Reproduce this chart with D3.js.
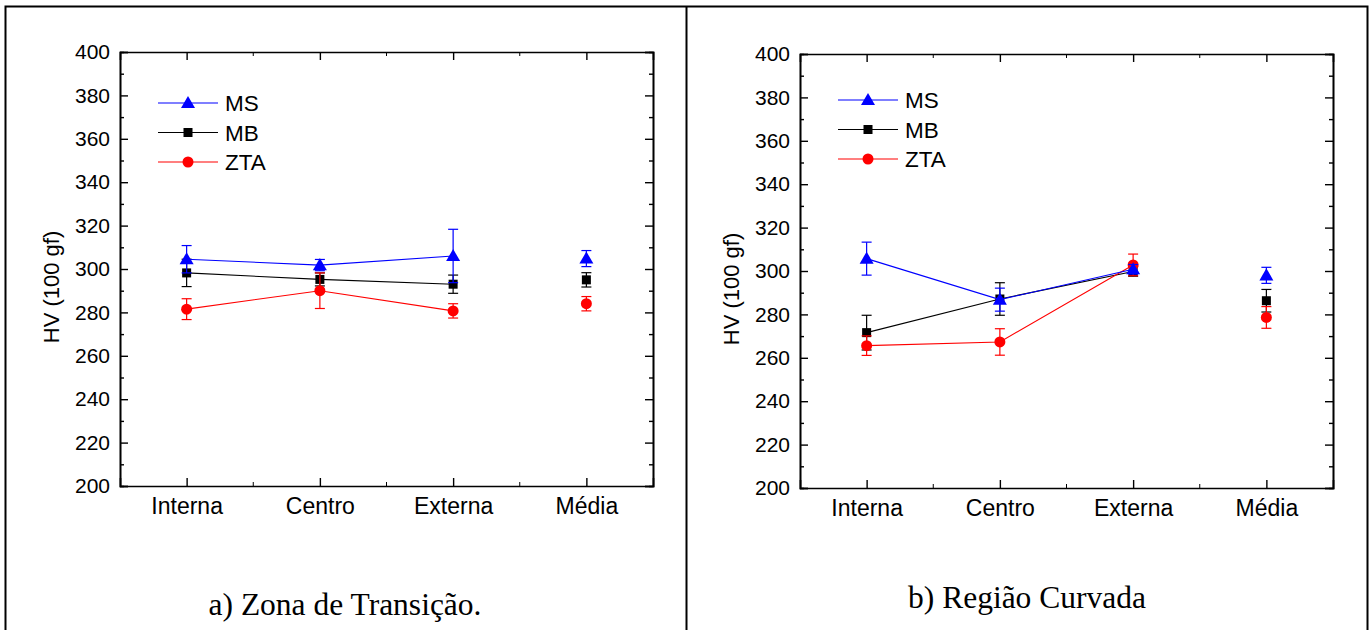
<!DOCTYPE html>
<html><head><meta charset="utf-8">
<script src="https://cdn.jsdelivr.net/npm/d3@7"></script>
<style>body{margin:0;background:#fff}svg{display:block}</style>
</head><body>
<svg id="c" width="1372" height="630"></svg>
<script>
const categories = ["Interna", "Centro", "Externa", "Média"];
const yTicks = [200, 220, 240, 260, 280, 300, 320, 340, 360, 380, 400];
const seriesNames = ["MS", "MB", "ZTA"];
const drawOrder = ["MB", "ZTA", "MS"];

// a) Zona de Transição
const aMS = [304.5, 301.8, 306, 304.8];
const aMSerr = [6.3, 2.6, 12.3, 3.7];
const aMB = [298.2, 295.2, 293, 295];
const aMBerr = [6.3, 3, 4.2, 3.3];
const aZTA = [281.5, 290, 280.7, 284];
const aZTAerr = [4.8, 8.2, 3.3, 3.3];

// b) Região Curvada
const bMS = [305.7, 286.8, 300.8, 298];
const bMSerr = [7.6, 5.3, 2.2, 3.7];
const bMB = [271.6, 287.1, 299.8, 286.3];
const bMBerr = [8, 7.5, 2.2, 5.2];
const bZTA = [265.6, 267.3, 302.8, 278.6];
const bZTAerr = [4.5, 6.1, 5, 5];

const captions = ["a) Zona de Transição.", "b) Região Curvada"];
const yTitle = "HV (100 gf)";

const colors = {MS: "#0000ff", MB: "#000000", ZTA: "#ff0000"};
const svg = d3.select("#c");

// outer frame
svg.append("rect").attr("x", 5.5).attr("y", 6.5).attr("width", 1362).attr("height", 640)
  .attr("fill", "none").attr("stroke", "#000").attr("stroke-width", 2);
svg.append("line").attr("x1", 686.5).attr("x2", 686.5).attr("y1", 6).attr("y2", 630)
  .attr("stroke", "#000").attr("stroke-width", 2);

function marker(g, type, x, y, color) {
  if (type === "MS") {
    const s = 7;
    g.append("path").attr("d", `M${x},${y - s}L${x + s},${y + s * 0.72}L${x - s},${y + s * 0.72}Z`).attr("fill", color);
  } else if (type === "MB") {
    g.append("rect").attr("x", x - 4.5).attr("y", y - 4.5).attr("width", 9).attr("height", 9).attr("fill", color);
  } else {
    g.append("circle").attr("cx", x).attr("cy", y).attr("r", 5.5).attr("fill", color);
  }
}

function panel(cfg) {
  const {x0, x1, y0, y1, data, legY, legX, captionX, captionY, caption} = cfg;
  const g = svg.append("g");
  const x = d3.scalePoint().domain(categories).range([x0, x1]).padding(0.5);
  const y = d3.scaleLinear().domain([200, 400]).range([y1, y0]);
  const minorY = d3.range(210, 400, 20);

  const fontAx = "Liberation Sans, Arial, sans-serif";
  const left = g.append("g").attr("transform", `translate(${x0},0)`)
    .call(d3.axisLeft(y).tickValues(yTicks).tickSize(-8).tickPadding(10));
  left.selectAll("text").attr("font-size", 21).attr("font-family", fontAx).attr("fill", "#000");
  left.append("g").call(d3.axisLeft(y).tickValues(minorY).tickSize(-4).tickFormat(""));
  const right = g.append("g").attr("transform", `translate(${x1},0)`)
    .call(d3.axisRight(y).tickValues(yTicks).tickSize(-8).tickFormat(""));
  right.append("g").call(d3.axisRight(y).tickValues(minorY).tickSize(-4).tickFormat(""));

  const bottom = g.append("g").attr("transform", `translate(0,${y1})`)
    .call(d3.axisBottom(x).tickSize(-8).tickPadding(12));
  bottom.selectAll("text").attr("font-size", 23).attr("font-family", fontAx).attr("fill", "#000");
  const step = x.step();
  const minorX = categories.slice(0, 3).map(c => x(c) + step / 2);
  bottom.selectAll(".minor").data(minorX).enter().append("line")
    .attr("x1", d => d).attr("x2", d => d).attr("y1", 0).attr("y2", -4).attr("stroke", "#000");
  const top = g.append("g").attr("transform", `translate(0,${y0})`)
    .call(d3.axisTop(x).tickSize(-8).tickFormat(""));
  top.selectAll(".minor").data(minorX).enter().append("line")
    .attr("x1", d => d).attr("x2", d => d).attr("y1", 0).attr("y2", 4).attr("stroke", "#000");
  g.selectAll(".domain").attr("stroke-width", 1.6);
  g.selectAll(".tick line").attr("stroke-width", 1.4);

  g.append("text").attr("transform", `translate(${x0 - 61},${(y0 + y1) / 2 + 18}) rotate(-90)`)
    .attr("text-anchor", "middle").attr("font-size", 22).attr("font-family", fontAx).text(yTitle);

  // series
  drawOrder.forEach(name => {
    const vals = data[name].v, errs = data[name].e, col = colors[name];
    const line = d3.line().x((d, i) => x(categories[i])).y(d => y(d));
    g.append("path").attr("d", line(vals.slice(0, 3))).attr("fill", "none")
      .attr("stroke", col).attr("stroke-width", 1.1);
    vals.forEach((v, i) => {
      const cx = x(categories[i]);
      const eb = g.append("g").attr("stroke", col).attr("stroke-width", 1.2);
      eb.append("line").attr("x1", cx).attr("x2", cx).attr("y1", y(v - errs[i])).attr("y2", y(v + errs[i]));
      [v - errs[i], v + errs[i]].forEach(w => eb.append("line").attr("x1", cx - 5).attr("x2", cx + 5).attr("y1", y(w)).attr("y2", y(w)));
    });
    vals.forEach((v, i) => marker(g, name, x(categories[i]), y(v), col));
  });

  // legend
  seriesNames.forEach((name, k) => {
    const ly = legY + k * 29.5;
    g.append("line").attr("x1", legX).attr("x2", legX + 60).attr("y1", ly).attr("y2", ly)
      .attr("stroke", colors[name]).attr("stroke-width", 1.1);
    marker(g, name, legX + 30, ly, colors[name]);
    g.append("text").attr("x", legX + 67).attr("y", ly + 8).attr("font-size", 22.5)
      .attr("font-family", fontAx).text(name);
  });

  svg.append("text").attr("x", captionX).attr("y", captionY).attr("text-anchor", "middle")
    .attr("font-size", 31.5).attr("font-family", "Liberation Serif, Times New Roman, serif").text(caption);
}

panel({x0: 120, x1: 653, y0: 52, y1: 486, legX: 158, legY: 103, captionX: 345, captionY: 615, caption: captions[0],
  data: {MS: {v: aMS, e: aMSerr}, MB: {v: aMB, e: aMBerr}, ZTA: {v: aZTA, e: aZTAerr}}});
panel({x0: 800, x1: 1333, y0: 54, y1: 488, legX: 838, legY: 100, captionX: 1027, captionY: 608, caption: captions[1],
  data: {MS: {v: bMS, e: bMSerr}, MB: {v: bMB, e: bMBerr}, ZTA: {v: bZTA, e: bZTAerr}}});
</script>
</body></html>
